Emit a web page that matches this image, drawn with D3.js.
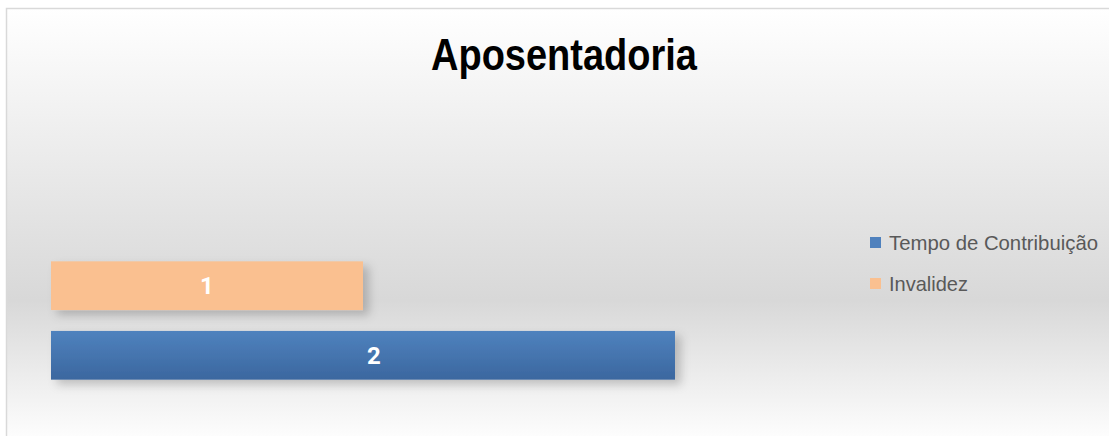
<!DOCTYPE html>
<html>
<head>
<meta charset="utf-8">
<script src="https://cdn.jsdelivr.net/npm/d3@7"></script>
<style>
  body { margin: 0; background: #fff; }
  .narrow { font-family: "Liberation Sans Narrow", "Arial Narrow", "Liberation Sans", sans-serif; }
</style>
</head>
<body>
<div class="vis"></div>
<script>
const categories = ['Tempo de Contribuição', 'Invalidez'];
const values = [2, 1];
const colors = ['#4f81bd', '#fac090'];
const title = 'Aposentadoria';

const outerWidth = 1109, outerHeight = 436;
const frame = {left: 7, top: 9};
const margin = {left: 51, top: 255, bottom: 50};

const svg = d3.select('.vis').append('svg')
    .attr('width', outerWidth)
    .attr('height', outerHeight)
    .style('display', 'block');

const defs = svg.append('defs');

// background gradient of the chart area
const bg = defs.append('linearGradient')
    .attr('id', 'bg').attr('x1', 0).attr('y1', 0).attr('x2', 0).attr('y2', 1);
bg.append('stop').attr('offset', '0%').attr('stop-color', '#ffffff');
bg.append('stop').attr('offset', '68%').attr('stop-color', '#d8d8d8');
bg.append('stop').attr('offset', '100%').attr('stop-color', '#fdfdfd');

const blue = defs.append('linearGradient')
    .attr('id', 'blueBar').attr('x1', 0).attr('y1', 0).attr('x2', 0).attr('y2', 1);
blue.append('stop').attr('offset', '0%').attr('stop-color', '#4f82be');
blue.append('stop').attr('offset', '100%').attr('stop-color', '#3b679f');

const shadow = defs.append('filter').attr('id', 'shadow')
    .attr('x', '-5%').attr('y', '-30%').attr('width', '115%').attr('height', '180%');
shadow.append('feDropShadow')
    .attr('dx', 6).attr('dy', 5).attr('stdDeviation', 5)
    .attr('flood-color', '#000').attr('flood-opacity', 0.2);

svg.append('rect')
    .attr('x', frame.left - 0.5).attr('y', frame.top - 0.5)
    .attr('width', outerWidth - frame.left + 2).attr('height', outerHeight - frame.top + 2)
    .attr('fill', 'url(#bg)')
    .attr('stroke', '#d9d9d9').attr('stroke-width', 1.5);

// narrow look: squeeze the text to the width of the original
svg.append('text')
    .attr('class', 'narrow')
    .attr('x', 431).attr('y', 70)
    .attr('font-size', 44).attr('font-weight', 'bold')
    .attr('textLength', 266).attr('lengthAdjust', 'spacingAndGlyphs')
    .attr('fill', '#000')
    .text(title);

const x = d3.scaleLinear()
    .domain([0, 2])
    .range([margin.left, 675]);
// categories drawn bottom to top like the original
const y = d3.scaleBand()
    .domain(categories.slice().reverse())
    .range([margin.top - 2, outerHeight - margin.bottom + 2])
    .paddingInner(0.3)
    .paddingOuter(0.12);

const dataset = categories.map((c, i) => ({label: c, value: values[i], color: colors[i]}));

svg.selectAll('.bar')
    .data(dataset)
    .enter().append('rect')
    .attr('class', 'bar')
    .attr('x', x(0))
    .attr('y', d => y(d.label))
    .attr('width', d => x(d.value) - x(0))
    .attr('height', y.bandwidth())
    .attr('fill', (d, i) => i === 0 ? 'url(#blueBar)' : d.color)
    .attr('filter', 'url(#shadow)');

svg.selectAll('.bar-label')
    .data(dataset)
    .enter().append('text')
    .attr('class', 'bar-label')
    .attr('x', d => (x(0) + x(d.value)) / 2 + (d.value === 2 ? 11 : 0))
    .attr('y', d => y(d.label) + y.bandwidth() / 2 + 8.5)
    .attr('text-anchor', 'middle')
    .attr('font-family', 'Roboto, "Liberation Sans", sans-serif')
    .attr('font-size', 24).attr('font-weight', 'bold')
    .attr('fill', '#fff')
    .text(d => d.value);

// legend
const legendWidths = [209, 79];
const legend = svg.selectAll('.legend')
    .data(dataset)
    .enter().append('g')
    .attr('class', 'legend')
    .attr('transform', (d, i) => 'translate(870,' + (237 + i * 41) + ')');
legend.append('rect')
    .attr('width', 11).attr('height', 11)
    .attr('fill', d => d.color);
legend.append('text')
    .attr('class', 'narrow')
    .attr('x', 19).attr('y', 13)
    .attr('font-size', 21)
    .attr('textLength', (d, i) => legendWidths[i]).attr('lengthAdjust', 'spacingAndGlyphs')
    .attr('fill', '#595959')
    .text(d => d.label);
</script>
</body>
</html>
